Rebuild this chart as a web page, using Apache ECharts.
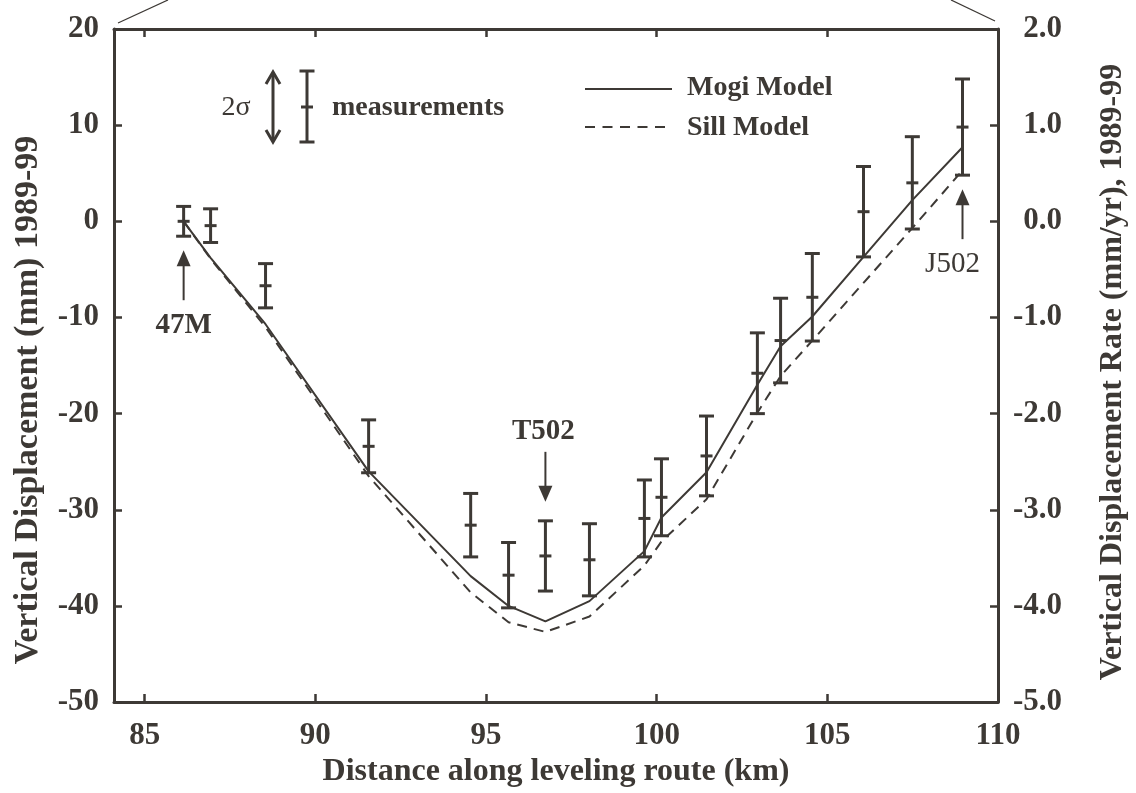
<!DOCTYPE html>
<html>
<head>
<meta charset="utf-8">
<title>Vertical displacement along leveling route</title>
<script src="https://cdn.jsdelivr.net/npm/echarts@6/dist/echarts.min.js"></script>
<style>
  html, body { margin: 0; padding: 0; background: #ffffff; }
  #chart { width: 1136px; height: 793px; }
</style>
</head>
<body>
<div id="chart"></div>
<script>
// Leveling stations (km along route) and measured vertical displacement, 1989-99 (mm)
const kmStations = [86.14, 86.93, 88.54, 91.56, 94.55, 95.66, 96.74, 98.03, 99.64, 100.14, 101.46, 102.95, 103.63, 104.56, 106.06, 107.49, 108.96];
const measured   = [0.0, -0.45, -6.7, -23.4, -31.6, -36.8, -34.8, -35.2, -30.9, -28.7, -24.4, -15.8, -12.4, -7.9, 1.0, 4.0, 9.8];
// half-length of each 2-sigma error bar (mm)
const twoSigma   = [1.55, 1.75, 2.3, 2.75, 3.3, 3.4, 3.65, 3.75, 4.0, 4.0, 4.15, 4.2, 4.4, 4.55, 4.7, 4.8, 5.0];
// model predictions at the same stations (mm)
const mogiModel  = [0.0, -3.8, -10.7, -26.0, -36.9, -40.0, -41.6, -39.5, -34.3, -30.8, -26.1, -17.0, -13.0, -9.9, -3.7, 2.2, 7.7];
const sillModel  = [0.0, -3.9, -11.0, -26.5, -38.6, -41.7, -42.7, -41.1, -35.8, -33.3, -28.9, -19.9, -16.1, -12.4, -6.4, -0.7, 5.3];

// axis ticks
const xTicks = [85, 90, 95, 100, 105, 110];
const xTicksTop = [85, 90, 95, 100, 105];

// labelled benchmarks: station index, name, arrow side
const benchmarks = [
  { idx: 0,  name: '47M',  side: 'below', bold: true },
  { idx: 6,  name: 'T502', side: 'above', bold: true },
  { idx: 16, name: 'J502', side: 'below', bold: false }
];

const INK = '#3d3935';
const FONT = '"Liberation Serif", "DejaVu Serif", "Times New Roman", serif';

const chart = echarts.init(document.getElementById('chart'), null, { renderer: 'canvas' });

const errData = kmStations.map((k, i) => [k, measured[i], twoSigma[i]]);
const mogiData = kmStations.map((k, i) => [k, mogiModel[i]]);
const sillData = kmStations.map((k, i) => [k, sillModel[i]]);

function renderErrorBar(params, api) {
  const x = api.value(0), c = api.value(1), e = api.value(2);
  const pc = api.coord([x, c]);
  const pt = api.coord([x, c + e]);
  const pb = api.coord([x, c - e]);
  const cap = 7.5, mid = 6;
  const style = { stroke: INK, lineWidth: 3, lineCap: 'butt' };
  return {
    type: 'group',
    children: [
      { type: 'line', shape: { x1: pt[0], y1: pt[1], x2: pb[0], y2: pb[1] }, style },
      { type: 'line', shape: { x1: pt[0] - cap, y1: pt[1], x2: pt[0] + cap, y2: pt[1] }, style },
      { type: 'line', shape: { x1: pb[0] - cap, y1: pb[1], x2: pb[0] + cap, y2: pb[1] }, style },
      { type: 'line', shape: { x1: pc[0] - mid, y1: pc[1], x2: pc[0] + mid, y2: pc[1] }, style }
    ]
  };
}

const tickLabel = { color: INK, fontFamily: FONT, fontWeight: 'bold', fontSize: 31 };

const option = {
  animation: false,
  backgroundColor: '#ffffff',
  grid: { left: 114, right: 138, top: 29, bottom: 90, containLabel: false },
  xAxis: [
    {
      type: 'value', position: 'bottom', min: 84.1, max: 110,
      axisLine: { show: true, onZero: false, lineStyle: { color: INK, width: 3 } },
      axisTick: { show: true, inside: true, length: 8, customValues: xTicks, lineStyle: { color: INK, width: 2.5 } },
      axisLabel: Object.assign({ show: true, margin: 18, customValues: xTicks }, tickLabel),
      splitLine: { show: false },
      name: 'Distance along leveling route (km)',
      nameLocation: 'middle', nameGap: 52,
      nameTextStyle: { color: INK, fontFamily: FONT, fontWeight: 'bold', fontSize: 32 }
    },
    {
      type: 'value', position: 'top', min: 84.1, max: 110,
      axisLine: { show: true, onZero: false, lineStyle: { color: INK, width: 3 } },
      axisTick: { show: true, inside: true, length: 8, customValues: xTicksTop, lineStyle: { color: INK, width: 2.5 } },
      axisLabel: { show: false },
      splitLine: { show: false }
    }
  ],
  yAxis: [
    {
      type: 'value', position: 'left', min: -50, max: 20, interval: 10,
      axisLine: { show: true, onZero: false, lineStyle: { color: INK, width: 3 } },
      axisTick: { show: true, inside: true, length: 8, lineStyle: { color: INK, width: 2.5 } },
      axisLabel: Object.assign({ show: true, margin: 15 }, tickLabel),
      splitLine: { show: false }
    },
    {
      type: 'value', position: 'right', min: -5, max: 2, interval: 1,
      axisLine: { show: true, onZero: false, lineStyle: { color: INK, width: 3 } },
      axisTick: { show: true, inside: true, length: 8, lineStyle: { color: INK, width: 2.5 } },
      axisLabel: Object.assign({ show: true, margin: 64, align: 'right', formatter: v => v.toFixed(1) }, tickLabel),
      splitLine: { show: false }
    }
  ],
  series: [
    {
      name: 'Mogi Model', type: 'line', xAxisIndex: 0, yAxisIndex: 0,
      data: mogiData, symbol: 'none', z: 3,
      lineStyle: { color: INK, width: 2 }
    },
    {
      name: 'Sill Model', type: 'line', xAxisIndex: 0, yAxisIndex: 0,
      data: sillData, symbol: 'none', z: 3,
      lineStyle: { color: INK, width: 2, type: [10, 7] }
    },
    {
      name: 'measurements', type: 'custom', xAxisIndex: 0, yAxisIndex: 0,
      data: errData, renderItem: renderErrorBar, z: 4,
      encode: { x: 0, y: [1, 2] }
    }
  ]
};

chart.setOption(option);

// ---- decorations, key and benchmark labels ----
function arrowHead(tipX, tipY, dir, len, half) {
  // dir: -1 points up, +1 points down
  const by = tipY - dir * len;
  return {
    type: 'polygon',
    shape: { points: [[tipX, tipY], [tipX - half, by], [tipX + half, by]] },
    style: { fill: INK }
  };
}

const g = [];

// inset connector lines at the upper corners
g.push({ type: 'line', shape: { x1: 118, y1: 23, x2: 168, y2: 0 }, style: { stroke: INK, lineWidth: 1.3 } });
g.push({ type: 'line', shape: { x1: 951, y1: 0, x2: 995, y2: 21 }, style: { stroke: INK, lineWidth: 1.3 } });

// y axis titles
g.push({
  type: 'text', x: 28, y: 400, rotation: Math.PI / 2,
  style: { text: 'Vertical Displacement (mm) 1989-99', fill: INK, font: 'bold 34px ' + FONT, align: 'center', verticalAlign: 'middle' }
});
g.push({
  type: 'text', x: 1113, y: 372, rotation: Math.PI / 2,
  style: { text: 'Vertical Displacement Rate (mm/yr), 1989-99', fill: INK, font: 'bold 32px ' + FONT, align: 'center', verticalAlign: 'middle' }
});

// 2-sigma key
g.push({ type: 'text', x: 236, y: 108, style: { text: '2σ', fill: INK, font: '28px ' + FONT, align: 'center', verticalAlign: 'middle' } });
g.push({ type: 'line', shape: { x1: 273, y1: 73, x2: 273, y2: 140 }, style: { stroke: INK, lineWidth: 3 } });
g.push({ type: 'polyline', shape: { points: [[266, 84], [273, 72], [280, 84]] }, style: { stroke: INK, lineWidth: 3, fill: null } });
g.push({ type: 'polyline', shape: { points: [[266, 130], [273, 142], [280, 130]] }, style: { stroke: INK, lineWidth: 3, fill: null } });
g.push({ type: 'line', shape: { x1: 307, y1: 71, x2: 307, y2: 142 }, style: { stroke: INK, lineWidth: 3 } });
g.push({ type: 'line', shape: { x1: 299.5, y1: 71, x2: 314.5, y2: 71 }, style: { stroke: INK, lineWidth: 3 } });
g.push({ type: 'line', shape: { x1: 299.5, y1: 142, x2: 314.5, y2: 142 }, style: { stroke: INK, lineWidth: 3 } });
g.push({ type: 'line', shape: { x1: 301, y1: 107, x2: 313, y2: 107 }, style: { stroke: INK, lineWidth: 3 } });
g.push({ type: 'text', x: 332, y: 108, style: { text: 'measurements', fill: INK, font: 'bold 28px ' + FONT, align: 'left', verticalAlign: 'middle' } });

// model key
g.push({ type: 'line', shape: { x1: 585, y1: 89, x2: 672, y2: 89 }, style: { stroke: INK, lineWidth: 2 } });
g.push({ type: 'text', x: 687, y: 88, style: { text: 'Mogi Model', fill: INK, font: 'bold 28px ' + FONT, align: 'left', verticalAlign: 'middle' } });
g.push({ type: 'line', shape: { x1: 585, y1: 127, x2: 672, y2: 127 }, style: { stroke: INK, lineWidth: 2, lineDash: [10, 7.5] } });
g.push({ type: 'text', x: 687, y: 128, style: { text: 'Sill Model', fill: INK, font: 'bold 28px ' + FONT, align: 'left', verticalAlign: 'middle' } });

// benchmark arrows and names, placed relative to their error bars
benchmarks.forEach(b => {
  const k = kmStations[b.idx];
  const font = (b.bold ? 'bold ' : '') + '29px ' + FONT;
  if (b.side === 'below') {
    const p = chart.convertToPixel({ xAxisIndex: 0, yAxisIndex: 0 }, [k, measured[b.idx] - twoSigma[b.idx]]);
    const tip = p[1] + 14;
    g.push(arrowHead(p[0], tip, -1, 16, 7));
    g.push({ type: 'line', shape: { x1: p[0], y1: tip + 10, x2: p[0], y2: tip + 50 }, style: { stroke: INK, lineWidth: 2 } });
    const tx = b.idx === kmStations.length - 1 ? p[0] - 10 : p[0];
    g.push({ type: 'text', x: tx, y: tip + 75, style: { text: b.name, fill: INK, font, align: 'center', verticalAlign: 'middle' } });
  } else {
    const p = chart.convertToPixel({ xAxisIndex: 0, yAxisIndex: 0 }, [k, measured[b.idx] + twoSigma[b.idx]]);
    const tip = p[1] - 19;
    g.push(arrowHead(p[0], tip, 1, 16, 7));
    g.push({ type: 'line', shape: { x1: p[0], y1: tip - 10, x2: p[0], y2: tip - 50 }, style: { stroke: INK, lineWidth: 2 } });
    g.push({ type: 'text', x: p[0] - 2, y: tip - 70, style: { text: b.name, fill: INK, font, align: 'center', verticalAlign: 'middle' } });
  }
});

chart.setOption({ graphic: { elements: g } });
</script>
</body>
</html>
